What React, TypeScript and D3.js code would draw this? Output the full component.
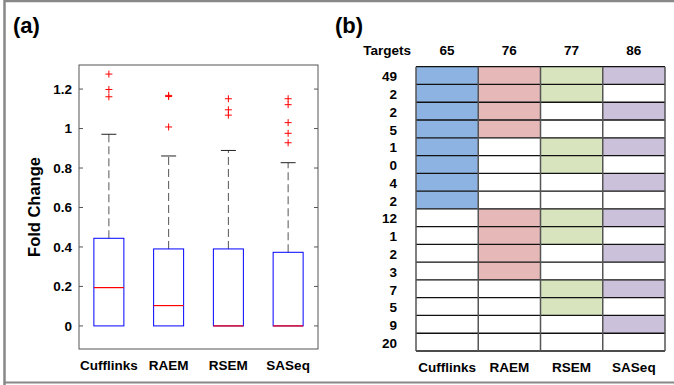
import * as d3 from "d3";

// ---- panel (a) data: fold change box plot ----
const methods = ["Cufflinks", "RAEM", "RSEM", "SASeq"];
const q1 = [0, 0, 0, 0];
const medians = [0.194, 0.103, 0, 0];
const q3 = [0.444, 0.39, 0.39, 0.373];
const whiskerHi = [0.971, 0.861, 0.889, 0.827];
const outliers = [
  [1.276, 1.198, 1.161],
  [1.168, 1.162, 1.008],
  [1.151, 1.095, 1.068],
  [1.151, 1.121, 1.03, 0.976, 0.928],
];
const yTicks = [0, 0.2, 0.4, 0.6, 0.8, 1, 1.2];

// ---- panel (b) data: overlap table ----
const targets = [65, 76, 77, 86];
const rowCounts = [49, 2, 2, 5, 1, 0, 4, 2, 12, 1, 2, 3, 7, 5, 9, 20];
const membership = [
  "1111", "1110", "1101", "1100", "1011", "1010", "1001", "1000",
  "0111", "0110", "0101", "0100", "0011", "0010", "0001", "0000",
];
const cellColors = ["#8db3e2", "#e6b9b8", "#d7e4bd", "#ccc1da"];

const FONT = "'Liberation Sans', Arial, sans-serif";

export default function App() {
  // panel (a) geometry
  const left = 79, right = 318, top = 65, bottom = 349;
  const x = d3.scaleLinear().domain([0.5, 4.5]).range([left, right]);
  const y = d3.scaleLinear().domain([-0.117, 1.322]).range([bottom, top]);
  const boxW = 30;
  const capW = 15;

  // panel (b) geometry
  const col = d3.scaleBand<string>().domain(methods).range([416, 665]);
  const row = d3.scaleBand<number>().domain(d3.range(rowCounts.length)).range([66.7, 351]);

  const plus = (cx: number, cy: number, k: string) => (
    <path key={k} d={`M${cx - 3.5},${cy}H${cx + 3.5}M${cx},${cy - 3.5}V${cy + 3.5}`} stroke="#ff0000" strokeWidth={1} />
  );

  return (
    <svg width={674} height={385} style={{ position: "absolute", left: 0, top: 0, background: "#fff" }} fontFamily={FONT}>
      {/* outer frame */}
      <path d="M4.5,385V1H674" fill="none" stroke="#888" strokeWidth={2.5} />
      <path d="M4.5,382.5H674" fill="none" stroke="#888" strokeWidth={2} />

      <text x={13} y={33} fontSize={22} fontWeight="bold" fill="#000">(a)</text>
      <text x={335} y={33} fontSize={22} fontWeight="bold" fill="#000">(b)</text>

      {/* panel (a) frame and ticks */}
      <rect x={left} y={top} width={right - left} height={bottom - top} fill="none" stroke="#555" strokeWidth={1} />
      {yTicks.map((t) => (
        <g key={t}>
          <line x1={left} x2={left + 4} y1={y(t)} y2={y(t)} stroke="#555" />
          <line x1={right - 4} x2={right} y1={y(t)} y2={y(t)} stroke="#555" />
          <text x={72} y={y(t)} dy="0.35em" textAnchor="end" fontSize={13.5} fontWeight="bold" fill="#000">{d3.format("~g")(t)}</text>
        </g>
      ))}
      <text transform={`translate(40,${(top + bottom) / 2}) rotate(-90)`} textAnchor="middle" fontSize={16.5} fontWeight="bold" fill="#000">Fold Change</text>

      {methods.map((m, i) => {
        const cx = x(i + 1);
        return (
          <g key={m}>
            <line x1={cx} x2={cx} y1={y(q3[i])} y2={y(whiskerHi[i])} stroke="#555" strokeDasharray="8,4" />
            <line x1={cx - capW / 2} x2={cx + capW / 2} y1={y(whiskerHi[i])} y2={y(whiskerHi[i])} stroke="#222" />
            <rect x={cx - boxW / 2} y={y(q3[i])} width={boxW} height={y(q1[i]) - y(q3[i])} fill="none" stroke="#0000ff" />
            <line x1={cx - boxW / 2} x2={cx + boxW / 2} y1={y(medians[i])} y2={y(medians[i])} stroke="#ff0000" strokeWidth={1.2} />
            {outliers[i].map((o, j) => plus(cx, y(o), `${m}-${j}`))}
            <text x={cx} y={370} textAnchor="middle" fontSize={13.5} fontWeight="bold" fill="#000">{m}</text>
          </g>
        );
      })}

      {/* panel (b) table */}
      <text x={411} y={50} dy="0.35em" textAnchor="end" fontSize={13.5} fontWeight="bold" fill="#000">Targets</text>
      {methods.map((m, j) => (
        <g key={m}>
          <text x={col(m)! + col.bandwidth() / 2} y={50} dy="0.35em" textAnchor="middle" fontSize={13.5} fontWeight="bold" fill="#000">{targets[j]}</text>
          <text x={col(m)! + col.bandwidth() / 2} y={372} textAnchor="middle" fontSize={13.5} fontWeight="bold" fill="#000">{m}</text>
        </g>
      ))}
      {rowCounts.map((c, r) => (
        <g key={r}>
          {methods.map((m, j) => (
            <rect key={m} x={col(m)} y={row(r)} width={col.bandwidth()} height={row.bandwidth()}
              fill={membership[r][j] === "1" ? cellColors[j] : "#fff"} />
          ))}
          <text x={397} y={row(r)! + row.bandwidth() / 2 + 1} dy="0.35em" textAnchor="end" fontSize={13.5} fontWeight="bold" fill="#000">{c}</text>
        </g>
      ))}
      {d3.range(rowCounts.length + 1).map((r) => {
        const yy = 66.7 + r * row.bandwidth();
        return <line key={r} x1={416} x2={665} y1={yy} y2={yy} stroke="#111" strokeWidth={1.3} />;
      })}
      {d3.range(methods.length + 1).map((j) => {
        const xx = 416 + j * col.bandwidth();
        return <line key={j} x1={xx} x2={xx} y1={66.7} y2={351} stroke="#555" strokeWidth={1.5} />;
      })}
    </svg>
  );
}
